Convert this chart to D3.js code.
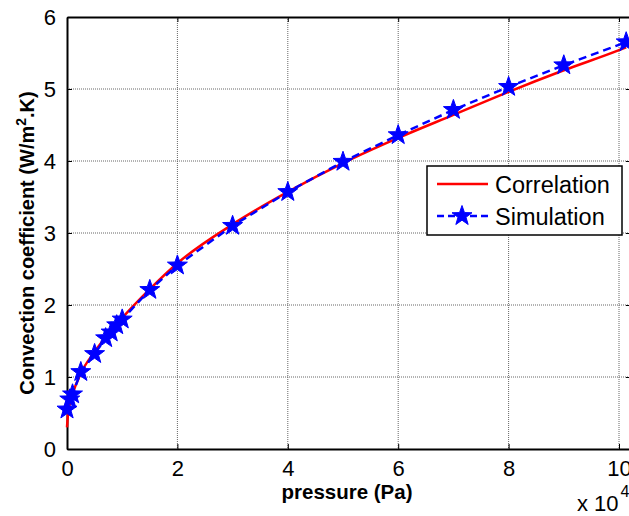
<!DOCTYPE html>
<html><head><meta charset="utf-8">
<script src="https://cdn.jsdelivr.net/npm/d3@7"></script>
<style>body{margin:0;background:#fff;}svg{display:block;font-family:"Liberation Sans",Arial,sans-serif;}</style>
</head><body>
<svg id="c" width="629" height="516"></svg>
<script>
// Data (pressure in units of 1e4 Pa)
const corrX = [0, 0.02, 0.05, 0.1, 0.25, 0.5, 0.75, 1, 1.5, 2, 3, 4, 5, 6, 7, 8, 9, 10, 10.13];
const corrY = [0.3, 0.5, 0.62, 0.76, 1.05, 1.35, 1.6, 1.82, 2.22, 2.58, 3.12, 3.57, 3.97, 4.32, 4.64, 4.96, 5.26, 5.54, 5.58];
const simX = [0, 0.05, 0.1, 0.25, 0.5, 0.7, 0.8, 0.9, 1, 1.5, 2, 3, 4, 5, 6, 7, 8, 9, 10.13];
const simY = [0.55, 0.69, 0.76, 1.07, 1.32, 1.54, 1.62, 1.72, 1.8, 2.21, 2.55, 3.1, 3.57, 3.99, 4.36, 4.71, 5.03, 5.33, 5.65];
const xTicks = [0, 2, 4, 6, 8, 10];
const yTicks = [0, 1, 2, 3, 4, 5, 6];
const seriesNames = ["Correlation", "Simulation"];

const svg = d3.select("#c");
const L = 67, R = 631, T = 17, B = 449;
const x = d3.scaleLinear().domain([0, (R - L) / 55.2]).range([L, R]);
const y = d3.scaleLinear().domain([0, 6]).range([B, T]);

// grid
const g = svg.append("g");
g.selectAll(".gx").data(xTicks.filter(d => d > 0)).join("line")
  .attr("x1", d => x(d)).attr("x2", d => x(d)).attr("y1", T).attr("y2", B)
  .attr("stroke", "#666").attr("stroke-width", 1).attr("stroke-dasharray", "1,1");
g.selectAll(".gy").data(yTicks.filter(d => d > 0 && d < 6)).join("line")
  .attr("y1", d => y(d)).attr("y2", d => y(d)).attr("x1", L).attr("x2", R)
  .attr("stroke", "#666").attr("stroke-width", 1).attr("stroke-dasharray", "1,1");

// axes
const fmt = d3.format("d");
const xAxisB = d3.axisBottom(x).tickValues(xTicks).tickFormat(fmt).tickSizeInner(-5).tickSizeOuter(0).tickPadding(11);
const xAxisT = d3.axisTop(x).tickValues(xTicks).tickSizeInner(-5).tickSizeOuter(0).tickFormat("");
const yAxisL = d3.axisLeft(y).tickValues(yTicks).tickFormat(fmt).tickSizeInner(-5).tickSizeOuter(0).tickPadding(11);
const yAxisR = d3.axisRight(y).tickValues(yTicks).tickSizeInner(-5).tickSizeOuter(0).tickFormat("");

function style(sel) {
  sel.select(".domain").attr("stroke", "#000").attr("stroke-width", 2);
  sel.selectAll(".tick line").attr("stroke", "#000").attr("stroke-width", 1);
  sel.selectAll(".tick text").attr("font-size", 22).attr("fill", "#000").attr("font-family", "Liberation Sans, Arial, sans-serif");
}
svg.append("g").attr("transform", `translate(0,${B})`).call(xAxisB).call(style);
svg.append("g").attr("transform", `translate(0,${T})`).call(xAxisT).call(style);
svg.append("g").attr("transform", `translate(${L},0)`).call(yAxisL).call(style);
svg.append("g").attr("transform", `translate(${R},0)`).call(yAxisR).call(style);

// lines
const corr = corrX.map((d, i) => [d, corrY[i]]);
const sim = simX.map((d, i) => [d, simY[i]]);
svg.append("path").datum(corr)
  .attr("d", d3.line().x(d => x(d[0])).y(d => y(d[1])).curve(d3.curveMonotoneX))
  .attr("fill", "none").attr("stroke", "#ff0000").attr("stroke-width", 2.5);
svg.append("path").datum(sim)
  .attr("d", d3.line().x(d => x(d[0])).y(d => y(d[1])))
  .attr("fill", "none").attr("stroke", "#0000ff").attr("stroke-width", 2.5).attr("stroke-dasharray", "8,5");

function starPath(r) {
  const pts = [];
  for (let i = 0; i < 10; i++) {
    const a = -Math.PI / 2 + i * Math.PI / 5;
    const rr = i % 2 === 0 ? r : r * 0.4;
    pts.push([rr * Math.cos(a), rr * Math.sin(a)]);
  }
  return "M" + pts.map(p => p.join(",")).join("L") + "Z";
}
svg.append("g").selectAll("path").data(sim).join("path")
  .attr("d", starPath(10.5))
  .attr("transform", d => `translate(${x(d[0])},${y(d[1])})`)
  .attr("fill", "#0000ff").attr("stroke", "#0000ff").attr("stroke-width", 1);

// legend
const lg = svg.append("g");
lg.append("rect").attr("x", 427).attr("y", 166).attr("width", 195).attr("height", 69)
  .attr("fill", "#fff").attr("stroke", "#000").attr("stroke-width", 1.5);
lg.append("line").attr("x1", 437).attr("x2", 488).attr("y1", 184).attr("y2", 184)
  .attr("stroke", "#ff0000").attr("stroke-width", 2.5);
lg.append("line").attr("x1", 437).attr("x2", 488).attr("y1", 216).attr("y2", 216)
  .attr("stroke", "#0000ff").attr("stroke-width", 2.5).attr("stroke-dasharray", "7,4");
lg.append("path").attr("d", starPath(10.5)).attr("transform", "translate(462,216)")
  .attr("fill", "#0000ff").attr("stroke", "#0000ff");
lg.selectAll("text").data(seriesNames).join("text")
  .attr("x", 495).attr("y", (d, i) => 193 + i * 32)
  .attr("font-size", 23.5).attr("fill", "#000").text(d => d);

// labels
svg.append("text").attr("x", 347).attr("y", 499).attr("text-anchor", "middle")
  .attr("font-size", 20.5).attr("font-weight", "bold").text("pressure (Pa)");
const yl = svg.append("text").attr("transform", "translate(34,243) rotate(-90)")
  .attr("text-anchor", "middle").attr("font-size", 20).attr("font-weight", "bold");
yl.append("tspan").text("Convection coefficient (W/m");
yl.append("tspan").attr("dy", -8).attr("font-size", 14).text("2");
yl.append("tspan").attr("dy", 8).text(".K)");

const ex = svg.append("text").attr("x", 577).attr("y", 511).attr("font-size", 22);
ex.append("tspan").text("x 10");
ex.append("tspan").attr("dx", 2).attr("dy", -14).attr("font-size", 16).text("4");
</script>
</body></html>
